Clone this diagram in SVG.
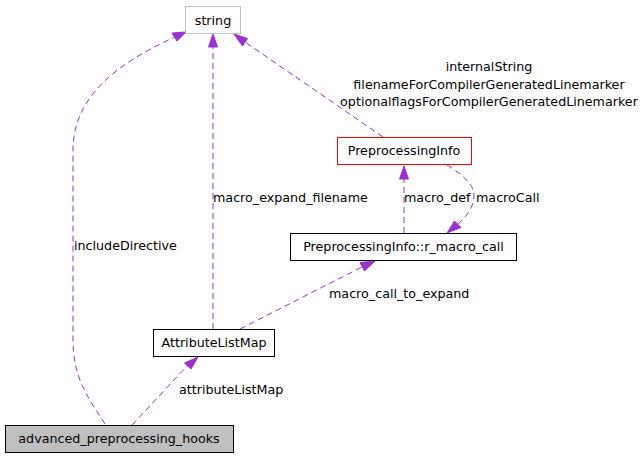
<svg xmlns="http://www.w3.org/2000/svg" width="643" height="459" viewBox="0 0 643 459">
<style>
text{font-family:"DejaVu Sans","Liberation Sans",sans-serif;font-size:12.7px;fill:#000}
.c{text-anchor:middle}
.box{fill:#fff;stroke:#000;stroke-width:1}
.e{fill:none;stroke:#9a32cd;stroke-width:1;stroke-dasharray:6,4}
.ah{fill:#9a32cd;stroke:#9a32cd;stroke-width:1}
</style>
<rect width="643" height="459" fill="#fff"/>
<g id="connectors">
<path class="e" d="M105,424 C90,400 73,380 73,340 L73,150 C73,95 120,62 175,37"/>
<polygon class="ah" points="186,32 177,41 172,33"/>
<path class="e" d="M213,329 L213,47"/>
<polygon class="ah" points="213,34 217.5,47 208.5,47"/>
<path class="e" d="M383,137 L245,42"/>
<polygon class="ah" points="234,34 247.5,38.5 242.5,46"/>
<path class="e" d="M404,233 L404,179"/>
<polygon class="ah" points="404,166 408.5,179 399.5,179"/>
<path class="e" d="M447,165 C465,176 474,186 474,195 C474,206 468,215 458,224"/>
<polygon class="ah" points="447,233 454.5,221 461,227.5"/>
<path class="e" d="M240,329 L362,267"/>
<polygon class="ah" points="375,261 364.5,271 360,262.5"/>
<path class="e" d="M132,425 L188,365"/>
<polygon class="ah" points="198,357 191,369 184.5,363"/>
</g>
<g id="string">
<rect x="185.5" y="6.5" width="55" height="27" fill="#fff" stroke="#bfbfbf"/>
<text class="c" x="213" y="25">string</text>
</g>
<g id="PreprocessingInfo">
<rect x="337.5" y="137.5" width="134" height="27" fill="#fff" stroke="#ff0000"/>
<text class="c" x="404" y="155">PreprocessingInfo</text>
</g>
<g id="r_macro_call">
<rect class="box" x="290.5" y="233.5" width="226" height="27"/>
<text class="c" x="403.5" y="251">PreprocessingInfo::r_macro_call</text>
</g>
<g id="AttributeListMap">
<rect class="box" x="153.5" y="329.5" width="121" height="27"/>
<text class="c" x="214" y="347">AttributeListMap</text>
</g>
<g id="advanced_preprocessing_hooks">
<rect x="5.5" y="425.5" width="228" height="27" fill="#bfbfbf" stroke="#000"/>
<text class="c" x="119" y="443">advanced_preprocessing_hooks</text>
</g>
<g id="labels">
<text class="c" x="489" y="71">internalString</text>
<text class="c" x="489" y="89">filenameForCompilerGeneratedLinemarker</text>
<text class="c" x="489" y="106">optionalflagsForCompilerGeneratedLinemarker</text>
<text x="74" y="250">includeDirective</text>
<text x="213" y="202">macro_expand_filename</text>
<text x="404" y="202">macro_def</text>
<text x="476" y="202">macroCall</text>
<text x="329" y="298">macro_call_to_expand</text>
<text x="179" y="394">attributeListMap</text>
</g>
</svg>
